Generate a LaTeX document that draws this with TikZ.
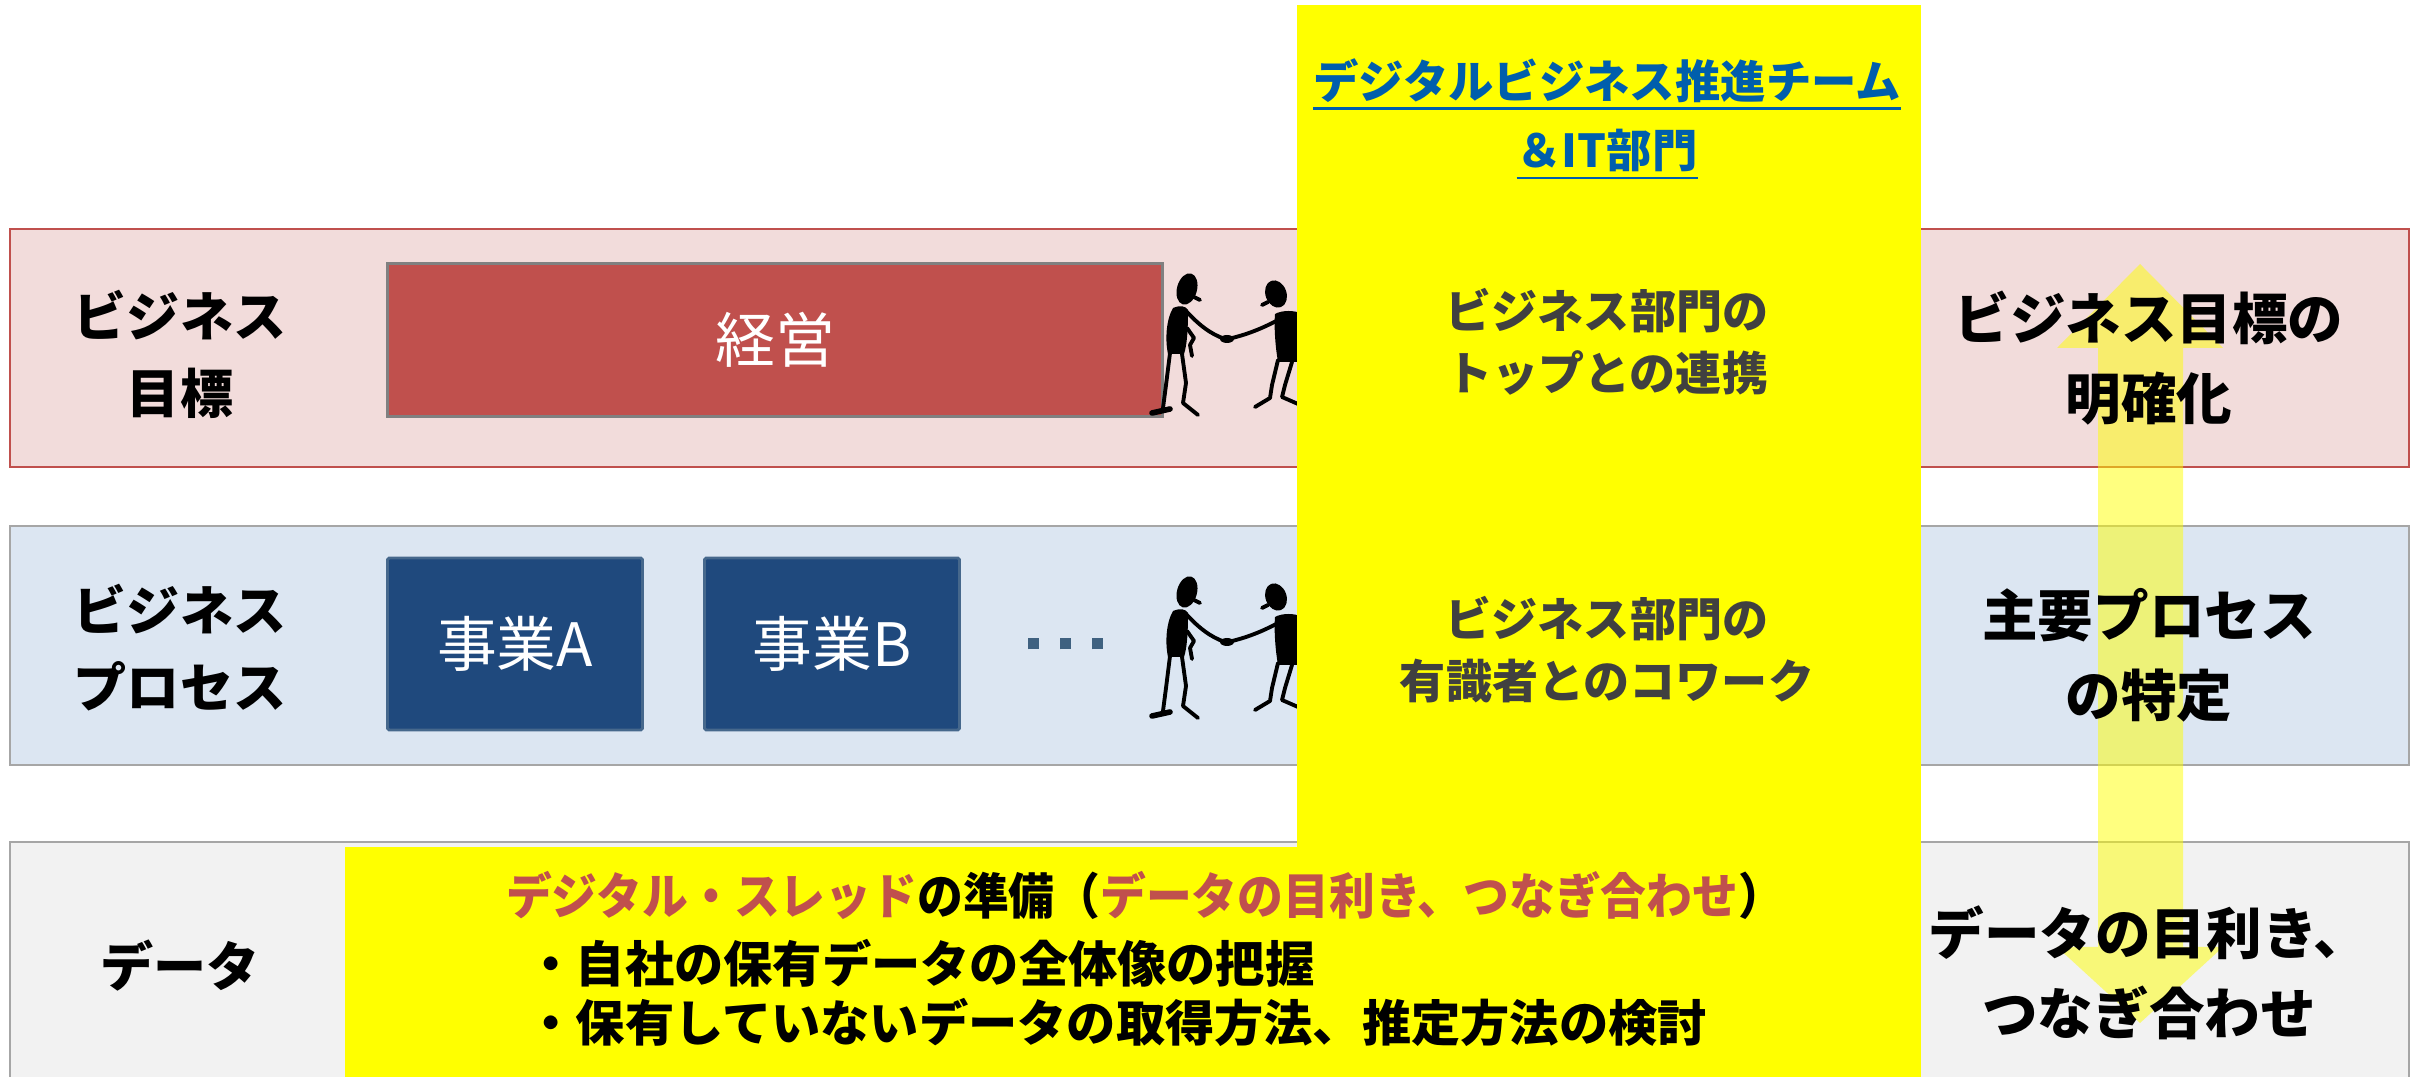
\documentclass[tikz,border=0pt]{standalone}
\usepackage{fontspec}
\setmainfont{Noto Sans CJK JP}
\usepackage{tikz}
\usetikzlibrary{positioning}

\definecolor{bandred}{RGB}{242,220,219}
\definecolor{bandredline}{RGB}{192,80,77}
\definecolor{bandblue}{RGB}{220,230,242}
\definecolor{bandgray}{RGB}{242,242,242}
\definecolor{bandline}{RGB}{166,166,166}
\definecolor{keiei}{RGB}{192,80,77}
\definecolor{keieiline}{RGB}{128,128,128}
\definecolor{jigyo}{RGB}{31,73,125}
\definecolor{jigyoline}{RGB}{70,104,140}
\definecolor{teamblue}{RGB}{0,94,172}
\definecolor{teamyellow}{RGB}{255,255,0}
\definecolor{textgray}{RGB}{64,64,64}
\definecolor{dotblue}{RGB}{63,97,128}

\newcommand{\teamline}[1]{\vtop{\hbox{#1}\kern1.2pt\hrule height 0.75pt}}
\newcommand{\sqdot}{\rule{0.11cm}{0.11cm}}

\tikzset{
  limb/.style={line width=1.1pt, line cap=round, line join=round},
  handshake/.pic={
    % left one
    \fill[rotate around={-15:(37,39)}] (37,39) ellipse [x radius=10, y radius=16];
    \draw[limb] (44,47) -- (50,50);
    \fill (23,58) .. controls (30,55) and (36,56) .. (38,60) .. controls (38,80) and (37,95) .. (34,104) -- (18,104) .. controls (15,90) and (16,70) .. (23,58) -- cycle;
    \draw[limb] (36,61) .. controls (48,74) and (60,84) .. (75,89);
    \draw[limb] (37,78) -- (44,88) -- (40,95) -- (42,106);
    \draw[limb] (20,103) -- (16,135) -- (13,158);
    \draw[limb, line width=1.6pt] (2,163) -- (20,159);
    \draw[limb] (32,104) -- (36,133) -- (33,153) -- (48,165);
    % right one
    \fill[rotate around={20:(126,44)}] (126,44) ellipse [x radius=10.5, y radius=14];
    \draw[limb] (118,52) -- (112,55);
    \fill (125,64) .. controls (132,60) and (145,60) .. (152,64) -- (152,112) -- (128,112) .. controls (125,95) and (124,75) .. (125,64) -- cycle;
    \draw[limb] (135,66) .. controls (118,76) and (100,84) .. (78,89);
    \draw[limb] (128,110) -- (122,135) -- (120,148) -- (105,157);
    \draw[limb] (142,112) -- (135,135) -- (132,147) -- (148,154);
    % hands
    \fill (77,89) ellipse [x radius=7, y radius=4];
  }
}

\begin{document}
\begin{tikzpicture}[x=0.01cm, y=-0.01cm,
  every node/.style={inner sep=0pt, align=center},
  band/.style={line width=0.5pt},
  tag/.style={font=\fontsize{15.1}{21.9}\selectfont\bfseries},
  goal/.style={font=\fontsize{15.8}{22.8}\selectfont\bfseries},
  link/.style={font=\fontsize{13.1}{17.6}\selectfont\bfseries, text=textgray},
  team/.style={font=\fontsize{12.9}{15}\selectfont\bfseries, text=teamblue, anchor=base},
  unit/.style={draw=jigyoline, line width=0.8pt, fill=jigyo, text=white, rounded corners=0.5pt,
    minimum width=2.55cm, minimum height=1.72cm, font=\fontsize{17}{20}\selectfont},
  todo/.style={font=\fontsize{14}{18}\selectfont\bfseries}]

\useasboundingbox (0,0) rectangle (2412,1077);

% three layers
\path[band, fill=bandred, draw=bandredline] (10,229) rectangle (2409,467);
\path[band, fill=bandblue, draw=bandline] (10,526) rectangle (2409,765);
\path[band, fill=bandgray, draw=bandline] (10,842) rectangle (2409,1100);

\node[unit, fill=keiei, draw=keieiline, line width=1pt, rounded corners=0pt,
  minimum width=7.75cm, minimum height=1.53cm] (keiei) at (775,340) {経営};
\node[unit] (jigyoA) at (515,644) {事業A};
\node[unit, right=0.59cm of jigyoA] (jigyoB) {事業B};
\node[right=0.66cm of jigyoB, text=dotblue] (more) {\sqdot\hspace{0.21cm}\sqdot\hspace{0.21cm}\sqdot};

\pic at (1150,250) {handshake};
\pic at (1150,553) {handshake};

% team column
\fill[teamyellow] (1297,5) rectangle (1921,1100);
\fill[teamyellow] (345,847) rectangle (1921,1100);

\node[tag] (goalTag) at (180,354) {ビジネス\\目標};
\node[tag] (procTag) at (180,648) {ビジネス\\プロセス};
\node[tag] (dataTag) at (180,966) {データ};

\node[team] (team1) at (1607,99) {\teamline{デジタルビジネス推進チーム}};
\node[team] (team2) at (1607,168) {\teamline{＆IT部門}};

\node[link] (linkTop) at (1607,342) {ビジネス部門の\\トップとの連携};
\node[link] (linkExp) at (1607,650) {ビジネス部門の\\有識者とのコワーク};

\node[todo, anchor=base] (d1) at (1145,915) {\scalebox{0.93}[1]{{\color{keiei}デジタル・スレッド}の準備（{\color{keiei}データの目利き、つなぎ合わせ}）}};
\node[todo, anchor=base west] (d2) at (526,983) {・自社の保有データの全体像の把握};
\node[todo, anchor=base west] (d3) at (526,1042) {・保有していないデータの取得方法、推定方法の検討};

% up and down
\fill[teamyellow, fill opacity=0.5] (2140,264) -- (2223,348) -- (2183,348) -- (2183,947) -- (2223,947)
  -- (2140,1023) -- (2057,947) -- (2098,947) -- (2098,348) -- (2057,348) -- cycle;

\node[goal] (goalOut) at (2149,358) {ビジネス目標の\\明確化};
\node[goal] (procOut) at (2149,655) {主要プロセス\\の特定};
\node[goal] (dataOut) at (2149,973) {データの目利き、\\つなぎ合わせ};

\end{tikzpicture}
\end{document}
